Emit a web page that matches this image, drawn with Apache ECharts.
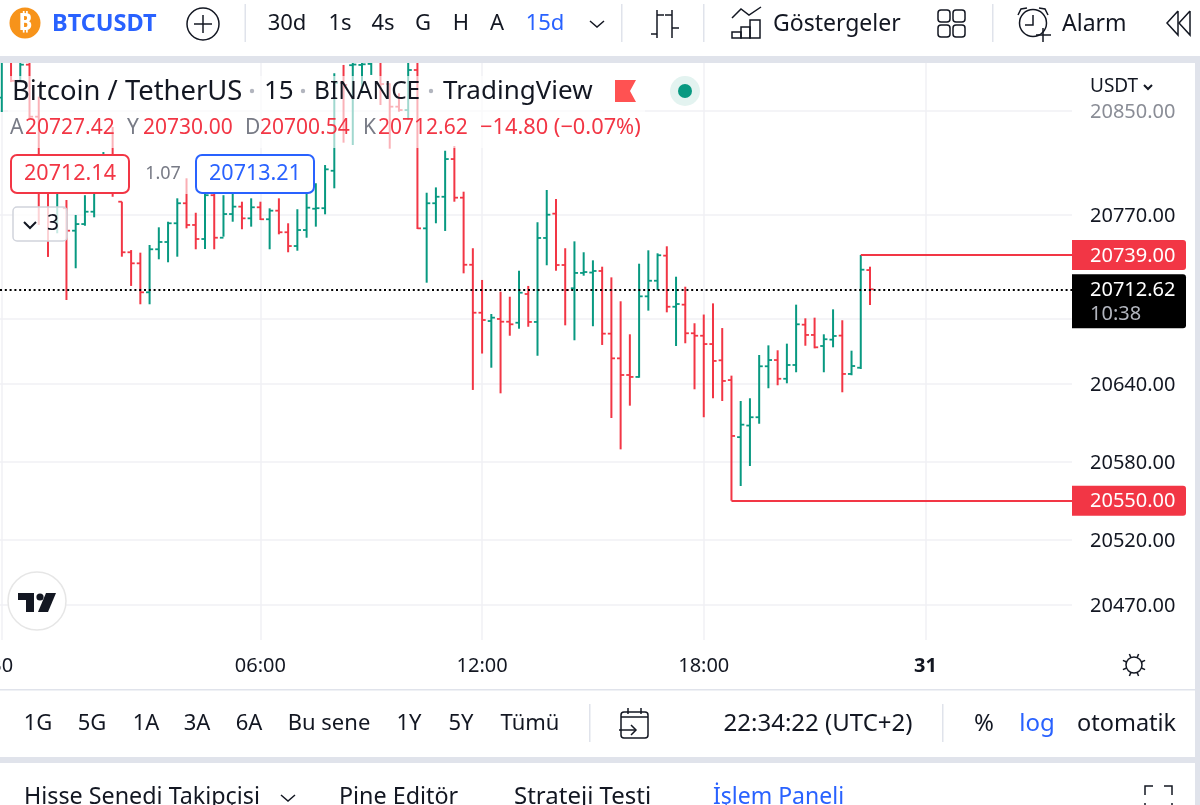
<!DOCTYPE html>
<html>
<head>
<meta charset="utf-8">
<title>BTCUSDT</title>
<script src="https://cdn.jsdelivr.net/npm/echarts@6/dist/echarts.min.js"></script>
<style>
html,body{margin:0;padding:0;background:#fff;}
#chart{width:1200px;height:805px;}
</style>
</head>
<body>
<div id="chart"></div>
<script>
// one entry per 15 minute bar (bars above the pane top are clipped)
const opens = [20860,20895,20873,20885.4,20845.4,20800,20764.4,20775,20757.7,20762.8,20772.3,20796.7,20800,20780,20741.1,20732.6,20710.3,20743.4,20749,20763.4,20778.8,20762.1,20751.3,20785,20752.3,20770.5,20776.2,20767.2,20775.7,20766.5,20773.1,20756.5,20745.9,20758.2,20774.6,20775,20803.8,20871.5,20885,20885.2,20886,20895,20870.5,20853.1,20850.5,20881.3,20759.5,20778.8,20783.8,20812.8,20783.1,20731.5,20694.6,20688.2,20689.8,20687.7,20686.9,20709,20687.5,20752.1,20770.8,20731.3,20713.4,20725.2,20725.5,20726.7,20678.5,20659.5,20646.7,20645.2,20707.2,20719.2,20738.5,20699.2,20700.8,20678.8,20676.9,20670.5,20658,20642.8,20598.9,20607.8,20614.2,20653.4,20658.2,20643.8,20654.4,20685.4,20677.5,20669,20673.9,20677,20647.5,20652.3,20727.42];
const highs = [20900,20900,20900,20900,20860.8,20808,20804,20781.3,20769.8,20785,20789,20818.2,20837.5,20780,20742.8,20740.8,20746.7,20760.3,20764.6,20782.6,20798,20771.5,20789,20790,20785,20786,20780,20782.6,20780,20774.9,20782.6,20763.4,20774.2,20789,20794.2,20808.2,20878.8,20885.2,20900,20900,20900,20900,20871.1,20863.4,20900,20890,20786.9,20791,20819.2,20822.8,20787.7,20744.2,20719.8,20693.6,20710.8,20706.9,20726.9,20715.2,20764.2,20789,20782.1,20744.2,20749.5,20741.1,20734.9,20730,20721.8,20703.4,20678,20732.3,20742.6,20740.3,20745.7,20722.3,20714.6,20686.5,20693.2,20701.8,20682.8,20646.2,20626.7,20628.8,20662.1,20669.5,20665.7,20670.8,20700.8,20690.3,20690.8,20678,20697.2,20688.8,20665.4,20739,20730];
const lows = [20849,20872,20872,20844.4,20762.1,20737.5,20755.7,20704.4,20728.8,20761.5,20768,20789,20783.8,20737.7,20715.2,20701.1,20701.1,20735.7,20733.4,20737.7,20759.5,20743.4,20743.6,20743.4,20753.1,20764.6,20758.8,20760.8,20765.9,20743.4,20754.9,20741.1,20742.3,20752.3,20760.8,20770.3,20790.3,20825.4,20823.6,20863.4,20877.5,20854.4,20821.1,20849.2,20842.8,20759,20717.7,20763.4,20757.5,20780,20724.9,20635.2,20663.2,20652.3,20632.6,20676.9,20682.3,20683.8,20661.5,20731.1,20726.9,20684.9,20673.4,20723.1,20684.2,20669.8,20613.6,20589.5,20623.1,20644.6,20696.2,20712.1,20694.9,20669,20671.1,20635.7,20614.2,20628.8,20626.7,20550,20561.3,20576.7,20609.2,20636.5,20638.8,20640.3,20648.8,20669.2,20667.2,20648.8,20668,20633.4,20646.5,20651.3,20700.54];
const closes = [20895,20873,20885.4,20845.4,20800,20764.4,20790,20757.7,20762.8,20772.3,20796.7,20800,20789,20741.1,20732.6,20710.3,20743.4,20749,20763.4,20778.8,20762.1,20751.3,20785,20752.3,20770.5,20776.2,20767.2,20775.7,20766.5,20773.1,20756.5,20745.9,20758.2,20775.4,20775,20804.9,20871.5,20869.8,20885.5,20885.7,20895,20870.5,20853.1,20850.5,20881.3,20759.5,20778.8,20783.8,20812.8,20783.1,20731.5,20694.6,20689,20690.8,20687.7,20685.7,20710,20687.5,20752.1,20770,20731.3,20712.1,20725.2,20725.9,20726.7,20678.5,20659.5,20646.7,20645.2,20707.2,20719.2,20738.8,20699.2,20701.3,20678.8,20676.9,20670.5,20657.5,20642.1,20599.8,20608.5,20614.2,20653.4,20658.2,20643.8,20654.4,20685.7,20677.5,20668,20674.2,20676.7,20647.5,20653.6,20727.7,20712.62];

const priceLabels = [20850,20770,20640,20580,20520,20470];
const priceGrid = [20850,20770,20690,20640,20580,20520,20470];
const timeTicks = [0,28,52,76,100];
const timeLabels = ['30','06:00','12:00','18:00','31'];

const highPrice = 20739, highBar = 93;
const lowPrice = 20550, lowBar = 79;
const lastPrice = 20712.62;
const countdown = '10:38';

const periods = ['30d','1s','4s','G','H','A','15d'];
const ranges = ['1G','5G','1A','3A','6A','Bu sene','1Y','5Y','Tümü'];
const panels = ['Hisse Senedi Takipçisi','Pine Editör','Strateji Testi','İşlem Paneli'];

const RED = '#f23645', GREEN = '#089981', BLUE = '#2962ff', INK = '#131722', GREY = '#787b86';
const FONT = '"Noto Sans", sans-serif';
const xMin = -0.195, xMax = 115.87;

const chart = echarts.init(document.getElementById('chart'));

function renderBar(params, api) {
  const i = api.value(0), o = api.value(1), h = api.value(2), l = api.value(3), c = api.value(4);
  const x = api.coord([i, o])[0];
  const yO = api.coord([i, o])[1], yH = api.coord([i, h])[1], yL = api.coord([i, l])[1], yC = api.coord([i, c])[1];
  const color = c >= o ? GREEN : RED;
  return {type: 'group', children: [
    {type: 'line', shape: {x1: x, y1: yH, x2: x, y2: yL}, style: {stroke: color, lineWidth: 2, fill: null}},
    {type: 'line', shape: {x1: x - 3.6, y1: yO, x2: x, y2: yO}, style: {stroke: color, lineWidth: 1.8, fill: null}},
    {type: 'line', shape: {x1: x, y1: yC, x2: x + 3.6, y2: yC}, style: {stroke: color, lineWidth: 1.8, fill: null}}
  ]};
}

function renderTag(params, api) {
  const p = api.coord([xMax, api.value(0)]);
  const isLast = api.value(0) === lastPrice;
  const top = p[1] - 15;
  const h = isLast ? 54 : 30;
  const kids = [
    {type: 'rect', shape: {x: p[0], y: top, width: 114, height: h, r: [0, 3, 3, 0]}, style: {fill: isLast ? '#000' : RED}},
    {type: 'text', x: p[0] + 18, y: top + 16, style: {text: api.value(0).toFixed(2), fill: '#fff', font: '20px ' + FONT, verticalAlign: 'middle'}}
  ];
  if (isLast) kids.push({type: 'text', x: p[0] + 18, y: top + 40, style: {text: countdown, fill: '#b2b5be', font: '20px ' + FONT, verticalAlign: 'middle'}});
  return {type: 'group', children: kids};
}

// small helpers for the toolbars around the pane
const txt = (x, y, text, o = {}) => ({type: 'text', x, y: y + 2, z: 30, style: {
  text, fill: o.color || INK, font: (o.weight || 'normal') + ' ' + (o.size || 22) + 'px ' + FONT,
  align: o.align || 'left', verticalAlign: 'middle'}});
const box = (x, y, w, h, fill, o = {}) => ({type: 'rect', z: o.z || 20, shape: {x, y, width: w, height: h, r: o.r || 0},
  style: {fill, stroke: o.stroke || null, lineWidth: o.lw || 1.5}});
const path = (pts, o = {}) => ({type: o.fill ? 'polygon' : 'polyline', z: 30, shape: {points: pts},
  style: {stroke: o.fill ? null : (o.color || INK), fill: o.fill || null, lineWidth: o.lw || 1.5}});
const ring = (x, y, r, o = {}) => ({type: 'circle', z: o.z || 30, shape: {cx: x, cy: y, r},
  style: {fill: o.fill || null, stroke: o.stroke === undefined ? INK : o.stroke, lineWidth: o.lw || 1.5}});

const sunRays = [];
[0,1,2,3,4,5,6,7].forEach(k => {
  const a = k * Math.PI / 4 + Math.PI / 8;
  sunRays.push(path([[1134 + 8 * Math.cos(a), 665 + 8 * Math.sin(a)], [1134 + 12 * Math.cos(a), 665 + 12 * Math.sin(a)]]));
});

const periodX = [287,340,383,423,461,497,545];
const rangeX = [38,92,146,197,249,329,409,461,530];
const panelX = [24,339,514,713];
const panelSize = [23.3,23.3,24,23];

const elements = [
  // bands between the panels
  box(0, 56, 1200, 7, '#e0e3eb'),
  box(0, 757, 1200, 6, '#e0e3eb'),
  box(1195, 56, 5, 749, '#e0e3eb'),
  box(0, 689, 1195, 1.5, '#e0e3eb'),

  // top bar
  ring(25, 23, 15.5, {fill: '#f7931a', stroke: null}),
  txt(25, 21, '₿', {color: '#fff', size: 24, weight: 'bold', align: 'center'}),
  txt(52, 22, 'BTCUSDT', {color: BLUE, weight: 'bold', size: 23.5}),
  ring(203, 24, 16),
  path([[194, 24], [212, 24]]), path([[203, 15], [203, 33]]),
  box(244.5, 4, 1.5, 38, '#e0e3eb'),
  ...periods.map((p, i) => txt(periodX[i], 22, p, {align: 'center', color: p === '15d' ? BLUE : INK})),
  path([[590, 21], [597, 27], [604, 21]]),
  box(621, 4, 1.5, 38, '#e0e3eb'),
  path([[657, 10], [657, 38]]), path([[651, 34], [657, 34]]), path([[657, 15], [664, 15]]),
  path([[672, 10], [672, 38]]), path([[665, 15], [672, 15]]), path([[672, 28], [679, 28]]),
  box(703, 4, 1.5, 38, '#e0e3eb'),
  path([[732, 18], [741, 9], [749, 15], [761, 7]]),
  box(732, 32, 9, 6, null, {stroke: INK, z: 30}), box(741, 27, 9, 11, null, {stroke: INK, z: 30}), box(750, 20, 10, 18, null, {stroke: INK, z: 30}),
  txt(773, 22, 'Göstergeler', {size: 23}),
  box(938, 10, 12, 12, null, {stroke: INK, r: 3, z: 30}), box(953, 10, 12, 12, null, {stroke: INK, r: 3, z: 30}),
  box(938, 25, 12, 12, null, {stroke: INK, r: 3, z: 30}), box(953, 25, 12, 12, null, {stroke: INK, r: 3, z: 30}),
  box(992, 4, 1.5, 38, '#e0e3eb'),
  ring(1033, 23, 13.5),
  path([[1033, 15], [1033, 25], [1025, 25]]),
  path([[1018, 15], [1021, 9], [1027, 8]]), path([[1048, 15], [1045, 9], [1039, 8]]),
  box(1036, 30, 18, 12, '#fff', {z: 29}),
  path([[1043, 28], [1043, 42]]), path([[1036, 35], [1051, 35]]),
  txt(1062, 22, 'Alarm', {size: 23}),
  path([[1178, 11], [1167, 23], [1178, 35], [1178, 11]]), path([[1190, 11], [1179, 23], [1190, 35], [1190, 11]]),

  // legend, its white backing lets the bars show through faintly
  box(8, 76, 637, 72, 'rgba(255,255,255,0.62)'),
  txt(12, 90, 'Bitcoin / TetherUS', {size: 27.4}),
  ring(252, 91, 2.2, {fill: '#b2b5be', stroke: null}),
  txt(264, 90, '15', {size: 26}),
  ring(303, 91, 2.2, {fill: '#b2b5be', stroke: null}),
  txt(314, 90, 'BINANCE', {size: 24.5}),
  ring(431, 91, 2.2, {fill: '#b2b5be', stroke: null}),
  txt(443, 90, 'TradingView', {size: 26}),
  path([[615, 80], [636, 80], [630, 91], [636, 102], [615, 102]], {fill: '#ff5252'}),
  ring(685, 91, 15, {fill: '#e3f3f0', stroke: null}),
  ring(685, 91, 7, {fill: GREEN, stroke: null}),
  txt(10, 126, 'A', {color: GREY, size: 21}), txt(25, 126, opens[94].toFixed(2), {color: RED, size: 21}),
  txt(127, 126, 'Y', {color: GREY, size: 21}), txt(143, 126, highs[94].toFixed(2), {color: RED, size: 21}),
  txt(245, 126, 'D', {color: GREY, size: 21}), txt(260, 126, lows[94].toFixed(2), {color: RED, size: 21}),
  txt(363, 126, 'K', {color: GREY, size: 21}), txt(378, 126, closes[94].toFixed(2), {color: RED, size: 21}),
  txt(480, 126, '−14.80 (−0.07%)', {color: RED, size: 21.8}),

  // buy / sell buttons and the collapsed indicator count
  box(131, 154, 65, 40, 'rgba(255,255,255,0.6)'),
  box(11, 155, 118, 38, '#fff', {stroke: RED, r: 6, lw: 2}),
  txt(70, 172, '20712.14', {color: RED, size: 21.5, align: 'center'}),
  txt(163, 172, '1.07', {color: GREY, size: 18, align: 'center'}),
  box(196, 155, 118, 38, '#fff', {stroke: BLUE, r: 6, lw: 2}),
  txt(255, 172, '20713.21', {color: BLUE, size: 21.5, align: 'center'}),
  box(13, 207, 54, 34, 'rgba(255,255,255,0.78)', {stroke: '#d1d4dc', r: 4}),
  path([[24, 222], [30, 228], [36, 222]], {lw: 2}),
  txt(53, 222, '3', {size: 21, align: 'center'}),

  // axis currency
  txt(1090, 85, 'USDT', {size: 19}),
  path([[1144, 85], [1148, 89], [1152, 85]], {lw: 2}),

  // logo
  ring(37, 601, 29, {fill: '#fff', stroke: '#e6e6e6', lw: 1.5, z: 25}),
  path([[18, 593], [34, 593], [34, 612], [26, 612], [26, 600], [18, 600]], {fill: INK}),
  ring(40, 597, 3.6, {fill: INK, stroke: null}),
  path([[46, 593], [56, 593], [48, 612], [38, 612]], {fill: INK}),

  // sun button
  ring(1134, 665, 8), ...sunRays,

  // range row
  ...ranges.map((r, i) => txt(rangeX[i], 722, r, {align: 'center'})),
  box(589, 704, 1.5, 38, '#e0e3eb'),
  box(621, 712, 27, 26, null, {stroke: INK, r: 3, z: 30}),
  box(618, 722, 14, 18, '#fff', {z: 29}),
  path([[621, 717], [648, 717]]), path([[628, 708], [628, 714]]), path([[641, 708], [641, 714]]),
  path([[619, 730], [636, 730]]), path([[631, 725], [636, 730], [631, 735]]),
  txt(818, 722, '22:34:22 (UTC+2)', {align: 'center', size: 24}),
  box(942, 704, 1.5, 38, '#e0e3eb'),
  txt(984, 722, '%', {align: 'center', size: 24}),
  txt(1037, 722, 'log', {align: 'center', color: BLUE, size: 24}),
  txt(1077, 722, 'otomatik', {size: 23.5}),

  // lower panel, cut by the bottom of the window
  ...panels.map((p, i) => txt(panelX[i], 795, p, {color: i === 3 ? BLUE : INK, size: panelSize[i]})),
  path([[281, 795], [288, 801], [295, 795]]),
  path([[1145, 795], [1145, 786], [1153, 786]]), path([[1164, 786], [1172, 786], [1172, 795]]),
  path([[1145, 803], [1145, 805]]), path([[1172, 803], [1172, 805]])
];

const option = {
  animation: false,
  backgroundColor: '#fff',
  grid: {left: 0, right: 128, top: 62, bottom: 165, outerBoundsMode: 'none'},
  xAxis: {
    type: 'value', min: xMin, max: xMax,
    axisLine: {show: false},
    axisTick: {show: false, customValues: timeTicks},
    splitLine: {show: true, lineStyle: {color: '#f0f1f4', width: 1.5}},
    axisLabel: {
      customValues: timeTicks, margin: 16, hideOverlap: false,
      fontFamily: FONT, fontSize: 20, color: INK,
      formatter: v => {
        const s = timeLabels[timeTicks.indexOf(v)];
        return s === '31' ? '{day|' + s + '}' : s;
      },
      rich: {day: {fontFamily: FONT, fontSize: 20, fontWeight: 'bold', color: INK}}
    }
  },
  yAxis: {
    type: 'value', position: 'right', min: 20442.85, max: 20887.46, scale: true,
    axisLine: {show: false},
    axisTick: {show: false, customValues: priceGrid},
    splitLine: {show: true, lineStyle: {color: '#f0f1f4', width: 1.5}},
    axisLabel: {
      customValues: priceLabels, margin: 18, fontFamily: FONT, fontSize: 20, color: INK, padding: [3, 0, 0, 0],
      formatter: v => v === 20850 ? '{fade|' + v.toFixed(2) + '}' : v.toFixed(2),
      rich: {fade: {fontFamily: FONT, fontSize: 20, color: '#8a8d96'}}
    }
  },
  series: [
    {
      type: 'custom', name: 'BTCUSDT', clip: true, z: 3,
      data: opens.map((o, i) => [i, o, highs[i], lows[i], closes[i]]),
      encode: {x: 0, y: [1, 2, 3, 4]},
      renderItem: renderBar
    },
    {
      type: 'line', name: 'levels', data: [], z: 4, symbol: 'none',
      markLine: {
        silent: true, symbol: 'none', label: {show: false},
        data: [
          [{coord: [highBar, highPrice], lineStyle: {color: RED, width: 2, type: 'solid'}}, {coord: [xMax, highPrice]}],
          [{coord: [lowBar, lowPrice], lineStyle: {color: RED, width: 2, type: 'solid'}}, {coord: [xMax, lowPrice]}],
          [{coord: [xMin, lastPrice], lineStyle: {color: '#000', width: 2, type: [2, 2.8]}}, {coord: [xMax, lastPrice]}]
        ]
      }
    },
    {
      type: 'custom', name: 'tags', z: 20, clip: false,
      data: [[highPrice], [lowPrice], [lastPrice]],
      encode: {y: 0},
      renderItem: renderTag
    }
  ],
  graphic: {elements}
};

chart.setOption(option);
</script>
</body>
</html>
